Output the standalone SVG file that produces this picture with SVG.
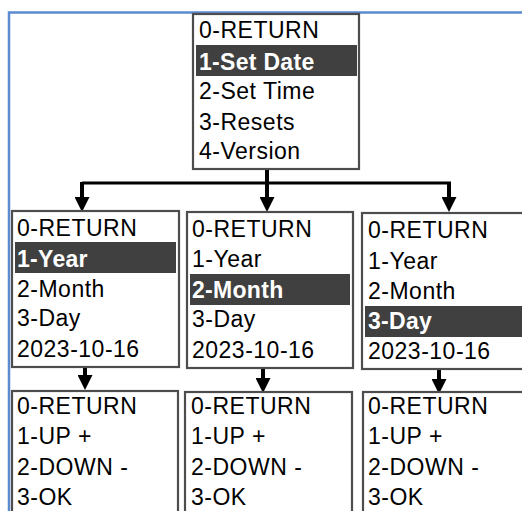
<svg xmlns="http://www.w3.org/2000/svg" width="522" height="511" viewBox="0 0 522 511">
<style>
.bg{fill:#ffffff}
.frame{fill:none;stroke:#5b8bd0;stroke-width:2.5}
.box{fill:#ffffff;stroke:#4d4d4d;stroke-width:2.2}
.hl{fill:#404040}
.t{font-family:"Liberation Sans",Arial,sans-serif;font-size:23px;letter-spacing:0.5px;fill:#000000}
.b{font-family:"Liberation Sans",Arial,sans-serif;font-size:23px;font-weight:bold;letter-spacing:0.3px;fill:#ffffff}
.c{fill:none;stroke:#000000}
.h{stroke-width:3}
.v{stroke-width:4}
</style>
<defs>
<marker id="ah" viewBox="0 0 15 15" refX="7" refY="7.5" markerWidth="15" markerHeight="15" markerUnits="userSpaceOnUse" orient="auto">
<path d="M0,0 L15,7.5 L0,15 z" fill="#000000"/>
</marker>
</defs>
<rect class="bg" x="0" y="0" width="522" height="511"/>
<path class="frame" d="M9,511 L9,12.5 L522,12.5"/>

<g id="connectors">
<path class="c v" d="M267,169 L267,183"/>
<path class="c h" d="M82,183 L451,183"/>
<path class="c v" d="M82,182 L82,204" marker-end="url(#ah)"/>
<path class="c v" d="M267,182 L267,204" marker-end="url(#ah)"/>
<path class="c v" d="M449,182 L449,204" marker-end="url(#ah)"/>
<path class="c v" d="M85,367 L85,382" marker-end="url(#ah)"/>
<path class="c v" d="M263,368 L263,385" marker-end="url(#ah)"/>
<path class="c v" d="M439,369 L439,386" marker-end="url(#ah)"/>
</g>

<g id="main-menu">
<rect class="box" x="193" y="14" width="166" height="155"/>
<rect class="hl" x="196" y="45" width="161" height="31"/>
<text class="t" x="199" y="38">0-RETURN</text>
<text class="b" x="199" y="70">1-Set Date</text>
<text class="t" x="199" y="99">2-Set Time</text>
<text class="t" x="199" y="130">3-Resets</text>
<text class="t" x="199" y="159">4-Version</text>
</g>

<g id="date-year">
<rect class="box" x="12" y="211" width="167" height="156"/>
<rect class="hl" x="15" y="242" width="161" height="31"/>
<text class="t" x="17" y="236">0-RETURN</text>
<text class="b" x="17" y="267">1-Year</text>
<text class="t" x="17" y="297">2-Month</text>
<text class="t" x="17" y="326">3-Day</text>
<text class="t" x="17" y="357">2023-10-16</text>
</g>

<g id="date-month">
<rect class="box" x="187" y="212" width="166" height="156"/>
<rect class="hl" x="190" y="274" width="160" height="31"/>
<text class="t" x="192" y="237">0-RETURN</text>
<text class="t" x="192" y="267">1-Year</text>
<text class="b" x="192" y="298">2-Month</text>
<text class="t" x="192" y="327">3-Day</text>
<text class="t" x="192" y="358">2023-10-16</text>
</g>

<g id="date-day">
<rect class="box" x="362" y="213" width="170" height="156"/>
<rect class="hl" x="365" y="306" width="165" height="31"/>
<text class="t" x="368" y="238">0-RETURN</text>
<text class="t" x="368" y="269">1-Year</text>
<text class="t" x="368" y="299">2-Month</text>
<text class="b" x="368" y="329">3-Day</text>
<text class="t" x="368" y="359">2023-10-16</text>
</g>

<g id="adjust-year">
<rect class="box" x="12" y="391" width="166" height="140"/>
<text class="t" x="17" y="414">0-RETURN</text>
<text class="t" x="17" y="444">1-UP +</text>
<text class="t" x="17" y="475">2-DOWN -</text>
<text class="t" x="17" y="505">3-OK</text>
</g>

<g id="adjust-month">
<rect class="box" x="185" y="392" width="167" height="140"/>
<text class="t" x="191" y="414">0-RETURN</text>
<text class="t" x="191" y="444">1-UP +</text>
<text class="t" x="191" y="475">2-DOWN -</text>
<text class="t" x="191" y="505">3-OK</text>
</g>

<g id="adjust-day">
<rect class="box" x="363" y="392" width="170" height="140"/>
<text class="t" x="368" y="414">0-RETURN</text>
<text class="t" x="368" y="444">1-UP +</text>
<text class="t" x="368" y="475">2-DOWN -</text>
<text class="t" x="368" y="505">3-OK</text>
</g>
</svg>
